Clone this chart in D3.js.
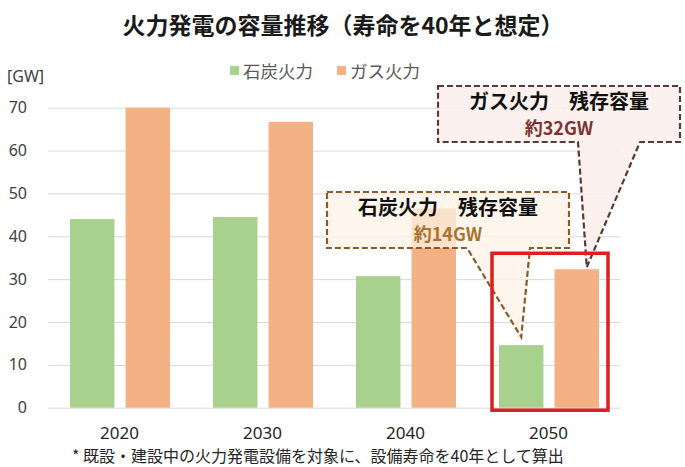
<!DOCTYPE html>
<html>
<head>
<meta charset="utf-8">
<script src="https://cdn.jsdelivr.net/npm/d3@7"></script>
<style>
  body { margin: 0; background: #fff; }
  svg { font-family: "Noto Sans CJK JP", "Noto Sans", sans-serif; }
</style>
</head>
<body>
<svg width="685" height="467"></svg>
<script>
const years = ['2020', '2030', '2040', '2050'];
const seriesNames = ['石炭火力', 'ガス火力'];
const coal = [44, 44.5, 30.7, 14.6];
const gas = [70, 66.7, 46.5, 32.3];
const yTicks = [0, 10, 20, 30, 40, 50, 60, 70];
const colors = ['#a9d18e', '#f4b183'];

const svg = d3.select('svg');

const xScale = d3.scaleBand().domain(years).range([48, 620]);
const xSub = d3.scaleBand().domain(seriesNames).range([22, 122]).paddingInner(0.2);
const yScale = d3.scaleLinear().domain([0, 70]).range([407.7, 107.7]);

// title
svg.append('text')
  .attr('x', 343).attr('y', 34)
  .attr('text-anchor', 'middle')
  .attr('font-size', 23).attr('font-weight', 'bold')
  .attr('fill', '#1a1a1a')
  .text('火力発電の容量推移（寿命を40年と想定）');

// grid
svg.append('g')
  .attr('transform', 'translate(48,0)')
  .call(d3.axisLeft(yScale).tickValues(yTicks).tickSize(-572).tickFormat(''))
  .call(g => g.select('.domain').remove())
  .call(g => g.selectAll('line').attr('stroke', '#d9d9d9').attr('stroke-width', 1));

// y labels
svg.append('g')
  .attr('transform', 'translate(27,0)')
  .call(d3.axisLeft(yScale).tickValues(yTicks).tickSize(0).tickPadding(0))
  .call(g => g.select('.domain').remove())
  .call(g => g.selectAll('text')
    .attr('font-size', 16).attr('fill', '#404040')
    .attr('font-family', '"Noto Sans", sans-serif'));

svg.append('text')
  .attr('x', 7).attr('y', 82)
  .attr('font-size', 16).attr('fill', '#404040')
  .attr('font-family', '"Noto Sans", sans-serif')
  .text('[GW]');

// x labels
svg.append('g')
  .attr('transform', 'translate(0,420)')
  .call(d3.axisBottom(xScale).tickSize(0).tickPadding(0))
  .call(g => g.select('.domain').remove())
  .call(g => g.selectAll('text')
    .attr('font-size', 17).attr('fill', '#262626')
    .attr('font-family', '"Noto Sans", sans-serif')
    .attr('dy', '1.1em'));

// bars
const seriesData = [coal, gas];
seriesNames.forEach((name, si) => {
  svg.append('g').selectAll('rect')
    .data(years.map((y, i) => ({ year: y, value: seriesData[si][i] })))
    .enter().append('rect')
    .attr('x', d => xScale(d.year) + xSub(name))
    .attr('y', d => yScale(d.value))
    .attr('width', xSub.bandwidth())
    .attr('height', d => yScale(0) - yScale(d.value))
    .attr('fill', colors[si]);
});

// legend
const legend = svg.append('g');
const legendX = [230, 337];
seriesNames.forEach((name, i) => {
  legend.append('rect')
    .attr('x', legendX[i]).attr('y', 66)
    .attr('width', 9).attr('height', 9)
    .attr('fill', colors[i]);
  legend.append('text')
    .attr('x', legendX[i] + 13).attr('y', 78)
    .attr('font-size', 17.5).attr('fill', '#595959')
    .text(name);
});

// callouts
function callout(box, tip, legs, fill, stroke, title, sub, subColor) {
  const [x0, y0, x1, y1] = box;
  const path = `M${x0},${y0}H${x1}V${y1}H${legs[1]}L${tip[0]},${tip[1]}L${legs[0]},${y1}H${x0}Z`;
  svg.append('path')
    .attr('d', path)
    .attr('fill', fill)
    .attr('stroke', stroke)
    .attr('stroke-width', 2.2)
    .attr('stroke-dasharray', '6,3');
  const cx = (x0 + x1) / 2;
  svg.append('text')
    .attr('x', cx).attr('y', y0 + 23)
    .attr('text-anchor', 'middle')
    .attr('font-size', 20).attr('font-weight', 'bold')
    .attr('fill', '#111')
    .text(title);
  svg.append('text')
    .attr('x', cx).attr('y', y0 + 49)
    .attr('text-anchor', 'middle')
    .attr('font-size', 18).attr('font-weight', 'bold')
    .attr('fill', subColor)
    .text(sub);
}

const last = years[3];
const coalTip = [xScale(last) + xSub(seriesNames[0]) + xSub.bandwidth() / 2, yScale(coal[3]) - 8];
const gasTip = [xScale(last) + xSub(seriesNames[1]) + xSub.bandwidth() / 2 + 10, yScale(gas[3]) - 2];

callout([327, 192, 569, 248], coalTip, [467, 530], 'rgba(253,243,230,0.75)', '#8c5a28',
  '石炭火力　残存容量', '約14GW', '#a8742f');
callout([438, 86, 680, 142], gasTip, [578, 640], 'rgba(252,238,236,0.85)', '#5a3a34',
  'ガス火力　残存容量', '約32GW', '#7b3530');

// red highlight around 2050
svg.append('rect')
  .attr('x', xScale(last) + xSub(seriesNames[0]) - 7)
  .attr('y', yScale(gas[3]) - 16)
  .attr('width', 116)
  .attr('height', yScale(0) - yScale(gas[3]) + 18.5)
  .attr('fill', 'none')
  .attr('stroke', '#dc1e1e')
  .attr('stroke-width', 3.5);

// footnote
svg.append('text')
  .attr('x', 72).attr('y', 462)
  .attr('font-size', 16).attr('fill', '#262626')
  .text('*  既設・建設中の火力発電設備を対象に、設備寿命を40年として算出');
</script>
</body>
</html>
